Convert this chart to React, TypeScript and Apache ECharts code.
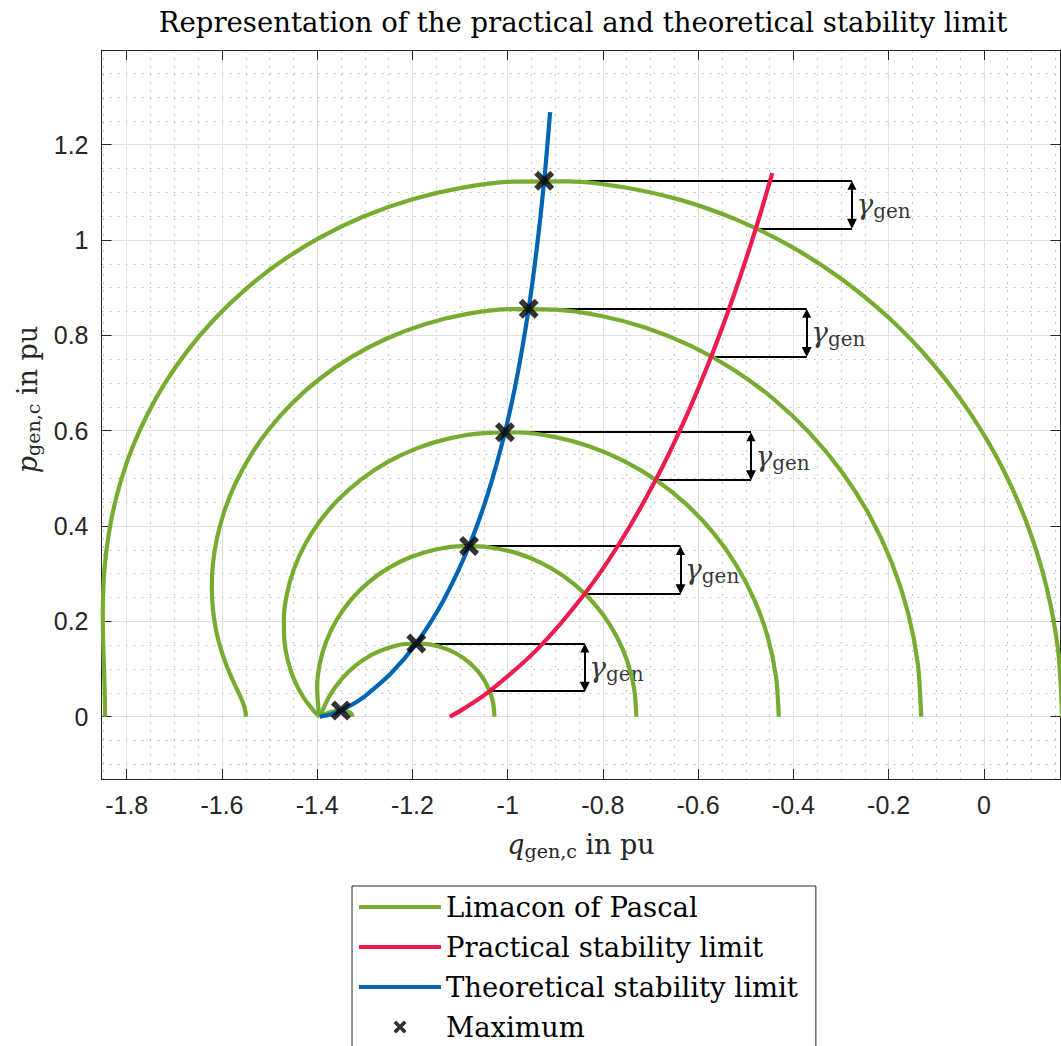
import React, { useEffect, useRef } from 'react';
import * as echarts from 'echarts';

// ---- axis ranges / ticks ----
const X_MIN = -1.853;
const X_MAX = 0.161;
const Y_MIN = -0.1306;
const Y_MAX = 1.3985;
const TICK_STEP = 0.2;
const GAMMA = 0.1;

// ---- Limacon of Pascal curves (q, p) ----
const limacon0 = [[-1.3256,0],[-1.328,0.0058],[-1.3349,0.0105],[-1.3462,0.013],[-1.3612,0.0122],[-1.3791,0.0072],[-1.3946,0]];
const limacon1 = [[-1.0276,0],[-1.0311,0.0318],[-1.0415,0.0622],[-1.0583,0.0901],[-1.0811,0.1141],[-1.109,0.1332],[-1.141,0.1464],[-1.1761,0.153],[-1.2127,0.1526],[-1.2498,0.1448],[-1.2859,0.1296],[-1.3196,0.1071],[-1.3496,0.078],[-1.3747,0.0427],[-1.3946,0]];
const limacon2 = [[-0.7296,0],[-0.7342,0.0578],[-0.748,0.114],[-0.7705,0.1672],[-0.8011,0.2161],[-0.8389,0.2591],[-0.883,0.2954],[-0.932,0.324],[-0.9845,0.3442],[-1.0391,0.3555],[-1.0943,0.3578],[-1.1486,0.3512],[-1.2006,0.336],[-1.2488,0.3128],[-1.2918,0.2824],[-1.3288,0.2457],[-1.3586,0.204],[-1.3807,0.1587],[-1.3946,0.111],[-1.4001,0.0625],[-1.3972,0.0146],[-1.3946,0]];
const limacon3 = [[-0.4306,0],[-0.4364,0.0839],[-0.4535,0.1659],[-0.4817,0.2446],[-0.5201,0.3183],[-0.5679,0.3855],[-0.624,0.4449],[-0.687,0.4955],[-0.7554,0.5363],[-0.8277,0.5669],[-0.9022,0.5869],[-0.9771,0.5962],[-1.0511,0.595],[-1.1224,0.5838],[-1.1896,0.5634],[-1.2514,0.5345],[-1.3067,0.4985],[-1.3546,0.4565],[-1.3946,0.41],[-1.4262,0.3603],[-1.4491,0.3091],[-1.4636,0.2575],[-1.47,0.2072],[-1.469,0.1594],[-1.4611,0.1152],[-1.4475,0.0756],[-1.4292,0.0413],[-1.4075,0.0129],[-1.3946,0]];
const limacon4 = [[-0.1316,0],[-0.1385,0.1099],[-0.1591,0.2178],[-0.1929,0.322],[-0.2391,0.4206],[-0.2969,0.5118],[-0.3651,0.5944],[-0.4421,0.667],[-0.5264,0.7285],[-0.6163,0.7783],[-0.71,0.8159],[-0.8056,0.8411],[-0.9016,0.8539],[-0.9961,0.8548],[-1.0873,0.8444],[-1.174,0.8233],[-1.2548,0.7929],[-1.3286,0.7544],[-1.3946,0.709],[-1.4522,0.6582],[-1.501,0.6035],[-1.541,0.5463],[-1.5723,0.4882],[-1.5953,0.4304],[-1.6106,0.3741],[-1.619,0.3205],[-1.6214,0.2703],[-1.6189,0.2243],[-1.6126,0.1829],[-1.6037,0.1464],[-1.5931,0.1146],[-1.5821,0.0874],[-1.5717,0.0644],[-1.5625,0.045],[-1.5555,0.0284],[-1.5511,0.0137],[-1.5496,0]];
const limacon5 = [[0.1644,0],[0.1564,0.1357],[0.1324,0.2692],[0.093,0.3986],[0.039,0.5218],[-0.0287,0.6369],[-0.1088,0.7424],[-0.1996,0.8368],[-0.2997,0.9188],[-0.407,0.9876],[-0.5197,1.0426],[-0.6358,1.0836],[-0.7536,1.1102],[-0.871,1.123],[-0.9861,1.1225],[-1.0974,1.1092],[-1.2034,1.0844],[-1.3028,1.0493],[-1.3946,1.005],[-1.478,0.9531],[-1.5524,0.895],[-1.6176,0.8322],[-1.6735,0.7663],[-1.7204,0.6986],[-1.7586,0.6304],[-1.7888,0.563],[-1.8117,0.497],[-1.8282,0.4336],[-1.8393,0.3732],[-1.8462,0.3162],[-1.8494,0.2626],[-1.8503,0.2125],[-1.8498,0.1656],[-1.8484,0.1216],[-1.847,0.0798],[-1.846,0.0395],[-1.8456,0]];
const limacons = [limacon0, limacon1, limacon2, limacon3, limacon4, limacon5];

// ---- stability limits ----
const theoreticalLimit = [[-1.3946,0],[-1.3723,0.0046],[-1.3502,0.0131],[-1.3228,0.0277],[-1.2997,0.0432],[-1.2459,0.09],[-1.192,0.1537],[-1.1358,0.2423],[-1.0811,0.3581],[-1.0422,0.466],[-1.0057,0.5969],[-0.9797,0.7162],[-0.9559,0.8558],[-0.9388,0.9825],[-0.9233,1.1244],[-0.9109,1.2683]];
const practicalLimit = [[-1.1216,0],[-1.0919,0.017],[-1.0379,0.0537],[-0.9371,0.1423],[-0.8381,0.2581],[-0.7638,0.366],[-0.6889,0.4969],[-0.6311,0.6162],[-0.5725,0.7558],[-0.5256,0.8825],[-0.4787,1.0244],[-0.4443,1.1403]];

// ---- maxima and gamma annotations ----
const maxima = [[-1.3502,0.0131],[-1.192,0.1537],[-1.0811,0.3581],[-1.0057,0.5969],[-0.9559,0.8558],[-0.9233,1.1244]];
const gammaBottom = [[-1.0379,0.0537],[-0.8381,0.2581],[-0.6889,0.4969],[-0.5725,0.7558],[-0.4787,1.0244]];
const gammaArrowQ = [-0.838, -0.637, -0.489, -0.372, -0.277];

const GREEN = '#77AC30';
const RED = '#EE1B4F';
const BLUE = '#0065B5';
const AXIS_COLOR = '#262626';
const SERIF = 'DejaVu Serif';
const SANS = 'Liberation Sans';
const ARROW_INSET = 0.0094;
const CURVE_WIDTH = 4.2;

const X_PATH = 'path://M4,0L10,6L16,0L20,4L14,10L20,16L16,20L10,14L4,20L0,16L6,10L0,4Z';
const BAR_ICON = 'path://M0,0L0.01,0L0.01,0.01ZM0,4.4H82V8.6H0ZM82,13L81.99,13L81.99,12.99Z';

const tickFmt = (v: number) => {
  const k = v / TICK_STEP;
  if (Math.abs(k - Math.round(k)) > 1e-6) return '';
  return String(parseFloat((Math.round(k) * TICK_STEP).toFixed(1)));
};

const nameRich = {
  i: { fontFamily: SERIF, fontStyle: 'italic', fontSize: 27, color: AXIS_COLOR },
  s: { fontFamily: SERIF, fontSize: 19, color: AXIS_COLOR, padding: [12, 0, 0, 0] },
  n: { fontFamily: SERIF, fontSize: 27, color: AXIS_COLOR },
};

function buildOption() {
  const axisLine = { show: true, onZero: false, lineStyle: { color: AXIS_COLOR, width: 1 } };
  const axisTick = { show: true, inside: true, length: 10, lineStyle: { color: AXIS_COLOR, width: 1 } };
  const baseX = {
    type: 'value', min: X_MIN, max: X_MAX, minInterval: TICK_STEP, maxInterval: TICK_STEP,
    axisLine, axisTick, minorTick: { show: false, splitNumber: 4 },
  };
  const baseY = {
    type: 'value', min: Y_MIN, max: Y_MAX, minInterval: TICK_STEP, maxInterval: TICK_STEP,
    axisLine, axisTick, minorTick: { show: false, splitNumber: 4 },
  };
  const labelCommon = {
    color: AXIS_COLOR, fontFamily: SANS, fontSize: 25, formatter: tickFmt,
    showMinLabel: false, showMaxLabel: false,
  };
  const splitLine = { show: true, lineStyle: { color: '#e0e0e0', width: 1 } };
  const minorSplitLine = { show: true, lineStyle: { color: '#c2c2c2', width: 1, type: [2, 6] } };

  const series: any[] = [];
  limacons.forEach((d) => {
    series.push({
      type: 'line', name: 'Limacon of Pascal', data: d, symbol: 'none', smooth: 0.25,
      lineStyle: { color: GREEN, width: CURVE_WIDTH, join: 'round' }, itemStyle: { color: GREEN }, clip: true,
    });
  });
  series.push({
    type: 'line', name: 'Practical stability limit', data: practicalLimit, symbol: 'none', smooth: 0.3,
    lineStyle: { color: RED, width: CURVE_WIDTH }, itemStyle: { color: RED }, clip: true,
  });
  series.push({
    type: 'line', name: 'Theoretical stability limit', data: theoreticalLimit, symbol: 'none', smooth: 0.3,
    lineStyle: { color: BLUE, width: CURVE_WIDTH }, itemStyle: { color: BLUE }, clip: true,
  });

  const hLines: any[] = [];
  const arrows: any[] = [];
  const gammaLabelPts: any[] = [];
  gammaBottom.forEach((b, i) => {
    const top = maxima[i + 1];
    const ax = gammaArrowQ[i];
    hLines.push({ coords: [[top[0], top[1]], [ax, top[1]]] });
    hLines.push({ coords: [[b[0], b[1]], [ax, b[1]]] });
    arrows.push({ coords: [[ax, b[1] + ARROW_INSET], [ax, top[1] - ARROW_INSET]] });
    gammaLabelPts.push([ax, b[1] + GAMMA / 2]);
  });
  series.push({
    type: 'lines', coordinateSystem: 'cartesian2d', data: hLines, symbol: 'none',
    lineStyle: { color: '#000', width: 2, opacity: 1 }, silent: true,
  });
  series.push({
    type: 'lines', coordinateSystem: 'cartesian2d', data: arrows, symbol: ['triangle', 'triangle'],
    symbolSize: [10, 9], lineStyle: { color: '#000', width: 2, opacity: 1 }, itemStyle: { color: '#000' }, silent: true,
  });
  series.push({
    type: 'scatter', data: gammaLabelPts, symbolSize: 1, itemStyle: { color: 'rgba(0,0,0,0)' }, silent: true,
    label: {
      show: true, position: 'right', distance: 4, formatter: '{g|γ}{s|gen}',
      rich: {
        g: { fontFamily: SERIF, fontStyle: 'italic', fontSize: 28, color: '#000' },
        s: { fontFamily: SERIF, fontSize: 20, color: '#000', padding: [13, 0, 0, 0] },
      },
    },
  });
  series.push({
    type: 'scatter', name: 'Maximum', data: maxima, symbol: X_PATH, symbolSize: 20, symbolKeepAspect: true,
    itemStyle: { color: '#000' }, z: 5,
  });

  return {
    animation: false,
    backgroundColor: '#fff',
    title: {
      text: 'Representation of the practical and theoretical stability limit',
      left: 578, top: 3, textAlign: 'center', textVerticalAlign: 'top',
      textStyle: { fontFamily: SERIF, fontSize: 27.5, fontWeight: 'normal', color: '#000' },
    },
    grid: { left: 101.5, top: 50, width: 959, height: 729, show: false, containLabel: false, outerBoundsMode: 'none' },
    legend: {
      orient: 'vertical', left: 352, top: 886, height: 240, itemWidth: 82, itemHeight: 13, itemGap: 12,
      padding: [7, 18, 7, 7], backgroundColor: '#fff', borderColor: AXIS_COLOR, borderWidth: 1, borderRadius: 0,
      selectedMode: false, symbolKeepAspect: true,
      textStyle: { fontFamily: SERIF, fontSize: 27.5, color: '#000', lineHeight: 28 },
      data: [
        { name: 'Limacon of Pascal', icon: BAR_ICON, itemStyle: { color: GREEN, borderWidth: 0 } },
        { name: 'Practical stability limit', icon: BAR_ICON, itemStyle: { color: RED, borderWidth: 0 } },
        { name: 'Theoretical stability limit', icon: BAR_ICON, itemStyle: { color: BLUE, borderWidth: 0 } },
        { name: 'Maximum' },
      ],
    },
    xAxis: [
      {
        ...baseX, position: 'bottom',
        axisLabel: { ...labelCommon, margin: 13 },
        splitLine, minorSplitLine,
        name: '{i|q}{s|gen,c}{n| in pu}', nameLocation: 'middle', nameGap: 50,
        nameTextStyle: { fontFamily: SERIF, fontSize: 27, color: AXIS_COLOR, rich: nameRich },
      },
      {
        ...baseX, position: 'top', axisLabel: { show: false }, splitLine: { show: false },
      },
    ],
    yAxis: [
      {
        ...baseY, position: 'left',
        axisLabel: { ...labelCommon, margin: 13 },
        splitLine, minorSplitLine,
        name: '{i|p}{s|gen,c}{n| in pu}', nameLocation: 'middle', nameGap: 56, nameRotate: 90,
        nameTextStyle: { fontFamily: SERIF, fontSize: 27, color: AXIS_COLOR, rich: nameRich, padding: [0, 0, 0, 30] },
      },
      {
        ...baseY, position: 'right', axisLabel: { show: false }, splitLine: { show: false },
      },
    ],
    series,
  };
}

export default function App() {
  const ref = useRef<HTMLDivElement>(null);
  useEffect(() => {
    document.body.style.margin = '0';
    const chart = echarts.init(ref.current as HTMLDivElement, null, { renderer: 'svg' });
    chart.setOption(buildOption() as any);
    return () => chart.dispose();
  }, []);
  return <div ref={ref} style={{ width: 1061, height: 1046 }} />;
}
